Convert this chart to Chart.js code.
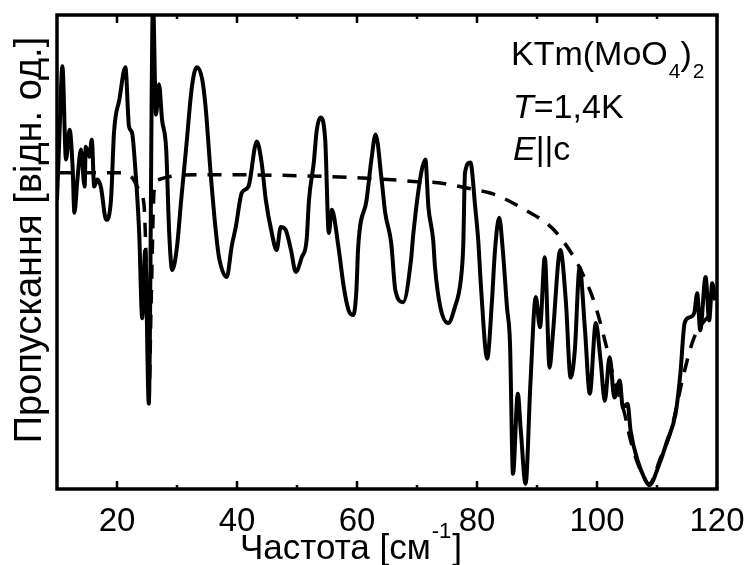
<!DOCTYPE html>
<html>
<head>
<meta charset="utf-8">
<script src="https://cdn.jsdelivr.net/npm/chart.js@4.4.1/dist/chart.umd.min.js"></script>
<style>
  body { margin: 0; background: #fff; }
  #wrap { width: 749px; height: 565px; }
</style>
</head>
<body>
<div id="wrap"><canvas id="spectrum" width="749" height="565"></canvas></div>
<script>
// measured transmission (solid), x in cm^-1
const freqMeasured = [10.0, 10.4, 10.9, 11.5, 12.1, 12.6, 12.9, 13.4, 14.0, 14.6, 14.8, 15.4, 15.8, 16.2, 16.7, 17.3, 18.2, 19.0, 19.5, 20.4,
    21.4, 22.0, 22.5, 23.1, 23.7, 24.2, 24.7, 25.3, 26.0, 26.5, 27.0, 27.5, 28.2, 28.7, 29.2, 30.0, 30.7, 31.5, 32.5, 33.3,
    34.2, 34.8, 35.6, 36.5, 37.0, 38.3, 39.1, 39.8, 40.8, 41.9, 43.3, 44.1, 44.8, 45.8, 46.6, 47.3, 48.1, 49.0, 49.8, 50.8,
    51.6, 52.0, 52.8, 53.3, 53.9, 54.7, 55.3, 55.8, 56.9, 57.8, 58.6, 59.4, 59.9, 60.2, 61.6, 62.4, 63.1, 64.1, 64.7, 65.7,
    66.4, 67.7, 69.0, 69.4, 70.7, 71.4, 71.9, 72.7, 73.0, 73.9, 75.2, 76.3, 77.3, 77.7, 78.0, 78.9, 79.7, 80.2, 80.7, 81.7,
    82.5, 83.0, 83.7, 84.3, 85.0, 85.5, 86.0, 86.8, 87.3, 88.1, 88.9, 89.8, 90.5, 91.3, 92.1, 92.6, 93.9, 94.8, 95.6, 96.3,
    97.1, 98.0, 98.8, 99.8, 100.6, 101.3, 102.1, 102.9, 103.8, 104.3, 105.1, 105.6, 106.8, 107.9, 108.7, 110.4, 111.7, 113.1, 113.9, 114.6,
    115.4, 116.2, 116.7, 117.2, 118.1, 118.7, 119.2, 119.7];
const transMeasured = [61.0, 74.4, 89.2, 69.5, 75.8, 68.0, 58.3, 65.3, 71.6, 63.8, 72.2, 70.1, 73.7, 63.8, 65.3, 63.8, 56.8, 61.0, 75.2, 82.2,
    89.0, 76.5, 75.2, 66.7, 54.0, 36.0, 50.4, 18.0, 103.0, 79.0, 85.4, 78.0, 71.6, 54.0, 46.2, 51.1, 61.0, 71.6, 85.0, 89.0,
    86.4, 80.1, 66.7, 54.0, 48.9, 44.7, 51.1, 55.3, 62.5, 63.8, 73.3, 68.9, 61.0, 54.0, 50.4, 55.3, 54.7, 50.4, 45.8, 48.9,
    52.5, 61.0, 68.9, 75.8, 78.4, 73.7, 54.0, 58.9, 51.1, 42.6, 37.7, 36.7, 41.9, 51.1, 61.0, 69.5, 74.8, 65.3, 58.3, 51.9,
    41.9, 39.4, 48.3, 54.0, 66.7, 69.5, 59.5, 52.5, 46.8, 38.3, 35.0, 38.3, 44.1, 51.1, 66.7, 68.9, 59.5, 52.5, 41.9, 27.5,
    39.8, 50.4, 57.2, 50.4, 38.3, 30.7, 3.2, 20.1, 12.3, 1.1, 22.2, 40.5, 34.1, 48.9, 25.6, 32.0, 50.4, 39.8, 23.5, 29.2,
    46.8, 33.5, 20.1, 35.0, 27.1, 18.6, 27.8, 19.3, 22.9, 17.2, 18.0, 12.3, 5.9, 2.3, 0.8, 5.3, 10.2, 15.9, 24.4, 35.0,
    36.2, 37.1, 41.3, 33.5, 44.7, 35.6, 43.4, 39.8];

// model curve (dashed)
const freqModel = [10.0, 20.4, 22.5, 23.7, 24.5, 25.0, 25.3, 25.7, 26.2, 27.0, 33.7, 50.3, 65.2, 70.2, 73.5, 79.8, 83.0, 88.0, 92.3, 94.6,
    97.3, 99.6, 101.3, 102.9, 104.6, 105.6, 107.3, 108.7, 110.6, 112.2, 114.6, 116.2, 118.4, 119.7];
const transModel = [66.7, 66.7, 65.7, 63.1, 60.0, 39.8, 18.6, 39.8, 63.1, 65.3, 66.3, 66.1, 65.3, 64.8, 64.6, 63.1, 62.1, 58.9, 55.3, 51.9,
    46.2, 39.2, 31.4, 22.9, 15.9, 10.2, 3.8, 1.1, 6.6, 11.7, 25.0, 32.0, 36.2, 37.7];

const xTickLabels = [20, 40, 60, 80, 100, 120];
const xMinorTicks = [30, 50, 70, 90, 110];

const FONT = '"Liberation Sans", Arial, Helvetica, sans-serif';

function toPoints(xs, ys) {
    return xs.map((x, i) => ({ x: x, y: ys[i] }));
}

const framePlugin = {
    id: 'frame',
    afterDraw(chart) {
        const ctx = chart.ctx;
        const a = chart.chartArea;
        const xs = chart.scales.x;
        ctx.save();
        ctx.strokeStyle = '#000';
        ctx.lineWidth = 3.5;
        ctx.strokeRect(a.left, a.top, a.right - a.left, a.bottom - a.top);

        // inward ticks on bottom and top
        ctx.lineWidth = 2.5;
        const tick = (v, len) => {
            const px = xs.getPixelForValue(v);
            ctx.beginPath();
            ctx.moveTo(px, a.bottom);
            ctx.lineTo(px, a.bottom - len);
            ctx.moveTo(px, a.top);
            ctx.lineTo(px, a.top + len);
            ctx.stroke();
        };
        xTickLabels.forEach(v => tick(v, 8));
        xMinorTicks.forEach(v => tick(v, 4));

        // tick labels
        ctx.fillStyle = '#000';
        ctx.font = '33px ' + FONT;
        ctx.textAlign = 'center';
        ctx.textBaseline = 'alphabetic';
        xTickLabels.forEach(v => {
            ctx.fillText(String(v), xs.getPixelForValue(v), 531);
        });

        // x title with superscript
        ctx.textAlign = 'left';
        let x = 240;
        ctx.font = '35px ' + FONT;
        ctx.fillText('Частота [см', x, 559);
        x += ctx.measureText('Частота [см').width;
        ctx.font = '22px ' + FONT;
        ctx.fillText('-1', x + 1, 538);
        x += ctx.measureText('-1').width + 2;
        ctx.font = '35px ' + FONT;
        ctx.fillText(']', x, 559);

        // y title
        ctx.save();
        ctx.translate(41, 240);
        ctx.rotate(-Math.PI / 2);
        ctx.textAlign = 'center';
        ctx.font = '38px ' + FONT;
        ctx.fillText('Пропускання [відн. од.]', 0, 0);
        ctx.restore();

        // sample annotation
        ctx.textAlign = 'left';
        x = 511;
        ctx.font = '34px ' + FONT;
        ctx.fillText('KTm(MoO', x, 65);
        x += ctx.measureText('KTm(MoO').width;
        ctx.font = '21px ' + FONT;
        ctx.fillText('4', x + 1, 78);
        x += ctx.measureText('4').width + 1;
        ctx.font = '34px ' + FONT;
        ctx.fillText(')', x, 65);
        x += ctx.measureText(')').width;
        ctx.font = '21px ' + FONT;
        ctx.fillText('2', x + 1, 78);

        x = 513;
        ctx.font = 'italic 34px ' + FONT;
        ctx.fillText('T', x, 118);
        x += ctx.measureText('T').width;
        ctx.font = '34px ' + FONT;
        ctx.fillText('=1,4K', x, 118);

        x = 513;
        ctx.font = 'italic 34px ' + FONT;
        ctx.fillText('E', x, 160);
        x += ctx.measureText('E').width;
        ctx.font = '34px ' + FONT;
        ctx.fillText('||c', x, 160);
        ctx.restore();
    }
};

const ctx = document.getElementById('spectrum').getContext('2d');
new Chart(ctx, {
    type: 'line',
    data: {
        datasets: [{
            label: 'measured',
            data: toPoints(freqMeasured, transMeasured),
            borderColor: '#000',
            borderWidth: 4,
            pointRadius: 0,
            fill: false,
            cubicInterpolationMode: 'monotone',
            order: 1
        }, {
            label: 'model',
            data: toPoints(freqModel, transModel),
            borderColor: '#000',
            borderWidth: 3.5,
            borderDash: [14, 11],
            pointRadius: 0,
            fill: false,
            cubicInterpolationMode: 'monotone',
            order: 2
        }]
    },
    options: {
        responsive: false,
        animation: false,
        layout: { padding: { left: 57, right: 32, top: 15, bottom: 76 } },
        plugins: {
            legend: { display: false },
            tooltip: { enabled: false }
        },
        scales: {
            x: { type: 'linear', min: 10, max: 120, display: false },
            y: { type: 'linear', min: 0, max: 100, display: false }
        }
    },
    plugins: [framePlugin]
});
</script>
</body>
</html>
